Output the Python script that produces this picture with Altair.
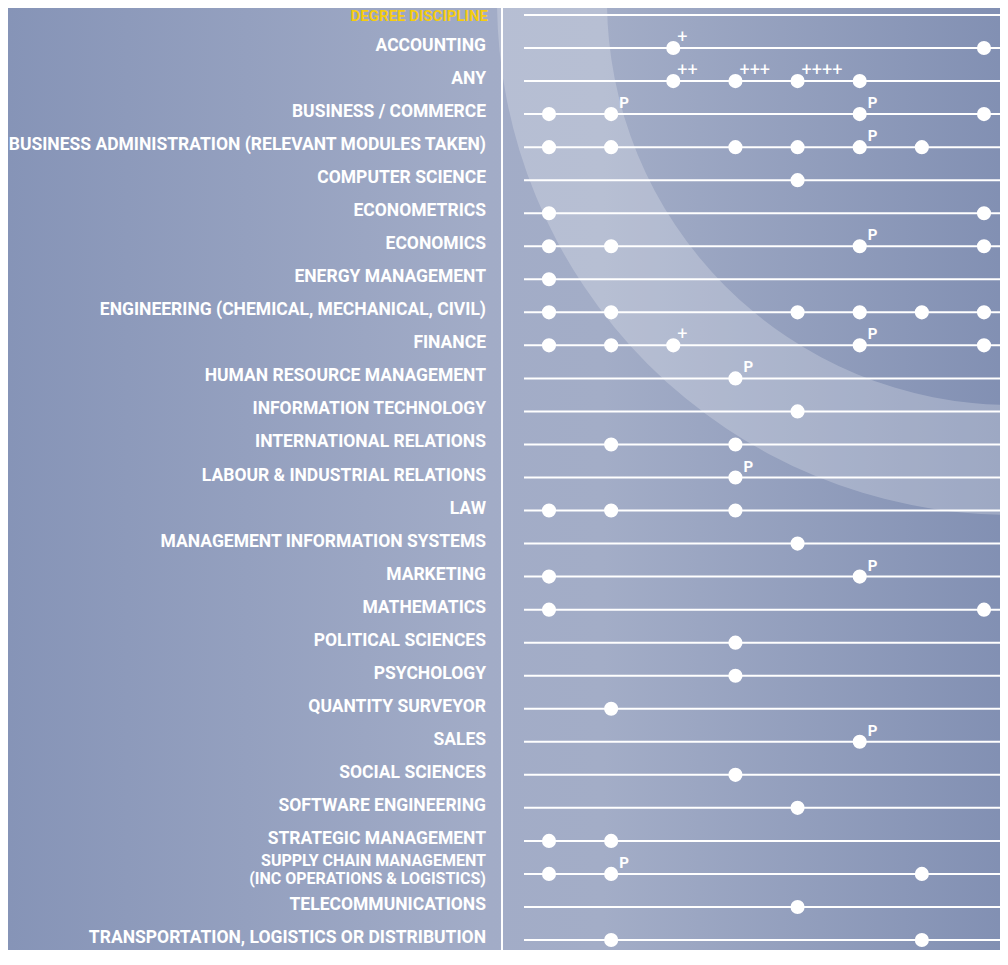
import math
import altair as alt
import pandas as pd

header = "DEGREE DISCIPLINE"
rows = [
    "ACCOUNTING", "ANY", "BUSINESS / COMMERCE",
    "BUSINESS ADMINISTRATION (RELEVANT MODULES TAKEN)", "COMPUTER SCIENCE",
    "ECONOMETRICS", "ECONOMICS", "ENERGY MANAGEMENT",
    "ENGINEERING (CHEMICAL, MECHANICAL, CIVIL)", "FINANCE",
    "HUMAN RESOURCE MANAGEMENT", "INFORMATION TECHNOLOGY",
    "INTERNATIONAL RELATIONS", "LABOUR & INDUSTRIAL RELATIONS", "LAW",
    "MANAGEMENT INFORMATION SYSTEMS", "MARKETING", "MATHEMATICS",
    "POLITICAL SCIENCES", "PSYCHOLOGY", "QUANTITY SURVEYOR", "SALES",
    "SOCIAL SCIENCES", "SOFTWARE ENGINEERING", "STRATEGIC MANAGEMENT",
    "SUPPLY CHAIN MANAGEMENT\n(INC OPERATIONS & LOGISTICS)",
    "TELECOMMUNICATIONS", "TRANSPORTATION, LOGISTICS OR DISTRIBUTION",
]
# column index (0..7) of each dot, per row
cols = [
    [2, 7], [2, 3, 4, 5], [0, 1, 5, 7], [0, 1, 3, 4, 5, 6], [4],
    [0, 7], [0, 1, 5, 7], [0], [0, 1, 4, 5, 6, 7], [0, 1, 2, 5, 7],
    [3], [4], [1, 3], [3], [0, 1, 3],
    [4], [0, 5], [0, 7], [3], [3], [1], [5],
    [3], [4], [0, 1], [0, 1, 6], [4], [1, 6],
]
notes = [
    ["+", ""], ["++", "+++", "++++", ""], ["", "P", "P", ""], ["", "", "", "", "P", ""], [""],
    ["", ""], ["", "", "P", ""], [""], ["", "", "", "", "", ""], ["", "", "+", "P", ""],
    ["P"], [""], ["", ""], ["P"], ["", "", ""],
    [""], ["", "P"], ["", ""], [""], [""], [""], ["P"],
    [""], [""], ["", ""], ["", "P", ""], [""], ["", ""],
]

all_rows = [header] + rows
row_df = pd.DataFrame({"row": all_rows, "kind": ["header"] + ["label"] * len(rows)})
row_df.loc[row_df.row.str.contains("\n"), "kind"] = "multi"
dots = []
for r, cs, ns in zip(rows, cols, notes):
    for c, n in zip(cs, ns):
        dots.append({"row": r, "col": c, "note": n})
dot_df = pd.DataFrame(dots)

W, H = 992, 942
FONT = "Roboto"
yenc = alt.Y("row:N", sort=all_rows, axis=None,
             scale=alt.Scale(type="point", padding=0, range=[7, 932]))
xenc = alt.X("col:Q", axis=None, scale=alt.Scale(domain=[0, 7], range=[541, 976]))

one = alt.Data(values=[{}])
bg = alt.Chart(one).mark_rect(
    color=alt.LinearGradient(
        gradient="linear", x1=0, x2=1, y1=0, y2=0,
        stops=[
            alt.GradientStop(color="#8694b7", offset=0),
            alt.GradientStop(color="#a2acc7", offset=0.48),
            alt.GradientStop(color="#a3adc7", offset=0.6),
            alt.GradientStop(color="#8290b3", offset=1),
        ],
    )
).encode(x=alt.value(0), x2=alt.value(W), y=alt.value(0), y2=alt.value(H))

ring = alt.Chart(one).mark_arc(
    color="white", opacity=0.22, innerRadius=405, outerRadius=515,
    theta=math.pi, theta2=math.pi * 1.5,
).encode(x=alt.value(1004), y=alt.value(-8))

vline = alt.Chart(one).mark_rule(color="white", strokeWidth=2).encode(
    x=alt.value(494), y=alt.value(0), y2=alt.value(H))

hlines = alt.Chart(row_df).mark_rule(color="white", strokeWidth=2).encode(
    x=alt.value(516), x2=alt.value(W), y=yenc)

labels = alt.Chart(row_df[row_df.kind == "label"]).mark_text(
    align="right", baseline="middle", dy=-2, color="white",
    font=FONT, fontWeight="bold", fontSize=17.5,
).encode(x=alt.value(478), y=yenc, text="row:N")

multi = alt.Chart(row_df[row_df.kind == "multi"]).mark_text(
    align="right", baseline="middle", dy=-13, color="white",
    font=FONT, fontWeight="bold", fontSize=16, lineBreak="\n", lineHeight=18,
).encode(x=alt.value(478), y=yenc, text="row:N")

head = alt.Chart(row_df[row_df.kind == "header"]).mark_text(
    align="right", baseline="middle", dy=1, color="#f5cc10",
    font=FONT, fontWeight="bold", fontSize=15,
).encode(x=alt.value(480), y=yenc, text="row:N")

points = alt.Chart(dot_df).mark_circle(size=200, color="white", opacity=1).encode(
    x=xenc, y=yenc)

ptxt = alt.Chart(dot_df[dot_df.note == "P"]).mark_text(
    align="left", baseline="middle", dx=8, dy=-11, color="white",
    font=FONT, fontWeight="bold", fontSize=15,
).encode(x=xenc, y=yenc, text="note:N")

plus = alt.Chart(dot_df[dot_df.note.str.startswith("+")]).mark_text(
    align="left", baseline="middle", dx=4, dy=-10, color="white",
    font=FONT, fontWeight="normal", fontSize=18,
).encode(x=xenc, y=yenc, text="note:N")

chart = alt.layer(bg, ring, vline, hlines, labels, multi, head, points, ptxt, plus).properties(
    width=W, height=H, padding=0,
    autosize=alt.AutoSizeParams(type="none"),
).configure_view(stroke=None)

chart.save("out.html", embed_options={"renderer": "svg", "actions": False})
